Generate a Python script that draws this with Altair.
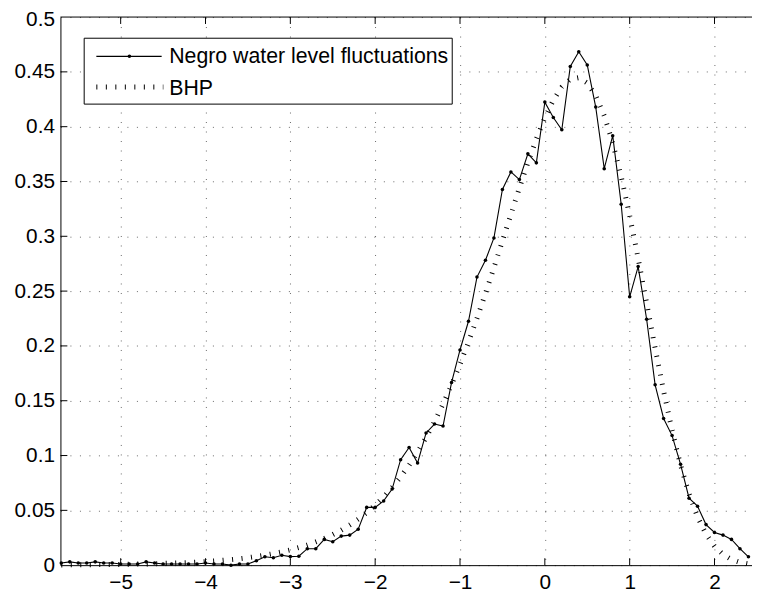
import altair as alt
import pandas as pd

# ---- data ----
xs = [i / 10 for i in range(-57, 25)]  # sample grid -5.7 ... 2.4

negro = [
    0.002, 0.003, 0.002, 0.002, 0.003, 0.002, 0.002, 0.001, 0.001, 0.001,
    0.003, 0.002, 0.001, 0.001, 0.001, 0.001, 0.001, 0.002, 0.001, 0.001,
    0.000, 0.001, 0.001, 0.004, 0.0076, 0.0067, 0.009, 0.0078, 0.0081, 0.015,
    0.015, 0.0235, 0.0214, 0.0265, 0.0274, 0.0328, 0.0527, 0.0527, 0.0586, 0.0694,
    0.0962, 0.1073, 0.0932, 0.1206, 0.1287, 0.1269, 0.1666, 0.1963, 0.2225, 0.2628,
    0.2781, 0.2985, 0.3427, 0.3587, 0.3517, 0.3752, 0.3670, 0.4224, 0.4083, 0.3972,
    0.4549, 0.4684, 0.4563, 0.4179, 0.3617, 0.3918, 0.3292, 0.2448, 0.2724, 0.2243,
    0.1645, 0.1338, 0.1182, 0.0920, 0.0611, 0.0538, 0.0370, 0.0298, 0.0274, 0.0235,
    0.0150, 0.0076,
]

bhp = [
    0.0002, 0.0003, 0.0003, 0.0004, 0.0005, 0.0005, 0.0006, 0.0007, 0.0008, 0.0010,
    0.0011, 0.0013, 0.0016, 0.0018, 0.0021, 0.0024, 0.0028, 0.0033, 0.0038, 0.0044,
    0.0051, 0.0059, 0.0068, 0.0079, 0.0091, 0.0105, 0.0121, 0.0139, 0.0160, 0.0184,
    0.0212, 0.0243, 0.0279, 0.0320, 0.0366, 0.0419, 0.0479, 0.0547, 0.0623, 0.0709,
    0.0805, 0.0912, 0.1032, 0.1164, 0.1310, 0.1470, 0.1645, 0.1833, 0.2036, 0.2251,
    0.2478, 0.2714, 0.2956, 0.3200, 0.3440, 0.3672, 0.3888, 0.4081, 0.4242, 0.4362,
    0.4432, 0.4447, 0.4398, 0.4283, 0.4100, 0.3852, 0.3545, 0.3189, 0.2799, 0.2390,
    0.1981, 0.1588, 0.1229, 0.0913, 0.0650, 0.0440, 0.0283, 0.0172, 0.0098, 0.0052,
    0.0026, 0.0012,
]

xticks = [-5, -4, -3, -2, -1, 0, 1, 2]
yticks = [0, 0.05, 0.1, 0.15, 0.2, 0.25, 0.3, 0.35, 0.4, 0.45, 0.5]
legend_labels = ["Negro water level fluctuations", "BHP"]

df = pd.DataFrame({"x": xs, "negro": negro, "bhp": bhp})
xt = pd.DataFrame({"x": xticks})
yt = pd.DataFrame({"y": yticks[1:-1]})
one = pd.DataFrame({"k": [0]})

W, H = 699, 554
FONT = "Liberation Sans"

xscale = alt.Scale(domain=[-5.71, 2.442], nice=False, zero=False)
yscale = alt.Scale(domain=[0, 0.5], nice=False, zero=False)

xaxis = alt.Axis(
    values=xticks, format="~g", title=None, grid=True, gridDash=[1, 8.6],
    gridColor="#000", gridOpacity=0.6, gridWidth=1, ticks=False,
    domain=True, domainColor="black", domainWidth=1,
    labelFont=FONT, labelFontSize=21, labelColor="black", labelPadding=7,
    labelFlush=False,
)
yaxis = alt.Axis(
    values=yticks, format="~g", title=None, grid=True, gridDash=[1, 8.6],
    gridColor="#000", gridOpacity=0.6, gridWidth=1, ticks=False,
    domain=True, domainColor="black", domainWidth=1,
    labelFont=FONT, labelFontSize=21, labelColor="black", labelPadding=6,
    labelFlush=False,
    labelOffset={"condition": {"test": "datum.value >= 0.5", "value": 2.5}, "value": 0},
)

X = alt.X("x:Q", scale=xscale, axis=xaxis)

bhp_line = alt.Chart(df).mark_line(
    color="black", strokeWidth=5, strokeDash=[1, 8.6], strokeCap="butt"
).encode(x=X, y=alt.Y("bhp:Q", scale=yscale, axis=yaxis))

negro_line = alt.Chart(df).mark_line(color="black", strokeWidth=1.1).encode(
    x=X, y=alt.Y("negro:Q", scale=yscale, axis=yaxis)
)
negro_pts = alt.Chart(df).mark_circle(color="black", size=13, opacity=1).encode(
    x=X, y=alt.Y("negro:Q", scale=yscale, axis=yaxis)
)

top_border = alt.Chart(one).mark_rule(color="black", strokeWidth=1).encode(
    x=alt.value(0), x2=alt.value(W), y=alt.value(0)
)

xt_bottom = alt.Chart(xt).mark_rule(color="black", strokeWidth=1).encode(
    x=X, y=alt.value(H), y2=alt.value(H - 7)
)
xt_top = alt.Chart(xt).mark_rule(color="black", strokeWidth=1).encode(
    x=X, y=alt.value(0), y2=alt.value(7)
)
yt_left = alt.Chart(yt).mark_rule(color="black", strokeWidth=1).encode(
    y=alt.Y("y:Q", scale=yscale, axis=yaxis), x=alt.value(0), x2=alt.value(7)
)

# ---- legend ----
leg_box = alt.Chart(one).mark_rect(
    fill="white", stroke="black", strokeWidth=1
).encode(x=alt.value(24), x2=alt.value(396), y=alt.value(21.4), y2=alt.value(88))

leg_line1 = alt.Chart(one).mark_rule(color="black", strokeWidth=1.1).encode(
    x=alt.value(36.3), x2=alt.value(102.3), y=alt.value(39.7)
)
leg_pt1 = alt.Chart(one).mark_circle(color="black", size=13, opacity=1).encode(
    x=alt.value(69.7), y=alt.value(39.7)
)
leg_line2 = alt.Chart(one).mark_rule(
    color="black", strokeWidth=5, strokeDash=[1, 8.6], strokeCap="butt"
).encode(x=alt.value(36.3), x2=alt.value(104), y=alt.value(70.7))

leg_text1 = alt.Chart(one).mark_text(
    text=legend_labels[0], align="left", baseline="middle",
    font=FONT, fontSize=21.5, color="black"
).encode(x=alt.value(110), y=alt.value(40.4))
leg_text2 = alt.Chart(one).mark_text(
    text=legend_labels[1], align="left", baseline="middle",
    font=FONT, fontSize=21.5, color="black"
).encode(x=alt.value(110), y=alt.value(72.4))

chart = alt.layer(
    bhp_line, negro_line, negro_pts, top_border, xt_bottom, xt_top, yt_left,
    leg_box, leg_line1, leg_pt1, leg_line2, leg_text1, leg_text2,
).properties(
    width=W, height=H,
    padding={"left": 53, "top": 6, "right": 0, "bottom": 26},
    autosize=alt.AutoSizeParams(type="none"),
    background="white",
).configure_view(stroke=None)

chart.save("out.html", embed_options={"renderer": "svg", "actions": False})
